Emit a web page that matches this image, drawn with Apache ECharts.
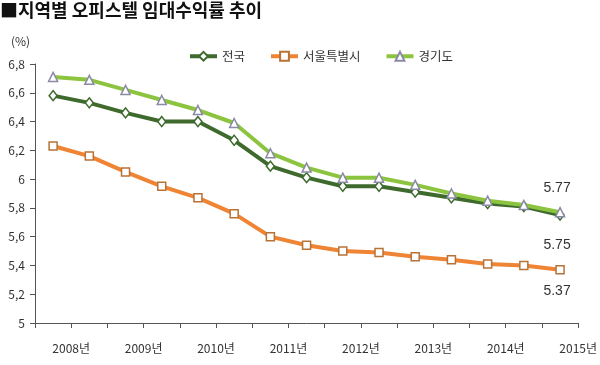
<!DOCTYPE html>
<html><head><meta charset="utf-8">
<script src="https://cdn.jsdelivr.net/npm/echarts@6/dist/echarts.min.js"></script>
<style>html,body{margin:0;padding:0;background:#fff}#c{width:600px;height:365px}</style>
</head><body><div id="c"></div>
<script>
const periods = ['2008-1','2008-2','2009-1','2009-2','2010-1','2010-2','2011-1','2011-2','2012-1','2012-2','2013-1','2013-2','2014-1','2014-2','2015-1'];
const yearLabels = ['2008년','2009년','2010년','2011년','2012년','2013년','2014년','2015년'];
const national = [6.58,6.53,6.46,6.40,6.40,6.27,6.09,6.01,5.95,5.95,5.91,5.87,5.83,5.81,5.75];
const seoul    = [6.23,6.16,6.05,5.95,5.87,5.76,5.60,5.54,5.50,5.49,5.46,5.44,5.41,5.40,5.37];
const gyeonggi = [6.71,6.69,6.62,6.55,6.48,6.39,6.18,6.08,6.01,6.01,5.96,5.90,5.85,5.82,5.77];
const seriesNames = ['전국','서울특별시','경기도'];
const yTicks = [5,5.2,5.4,5.6,5.8,6,6.2,6.4,6.6,6.8];

const font = '"Noto Sans CJK KR", "Noto Sans", sans-serif';
function toData(arr, lastLabel) {
  return arr.map((v, i) => {
    const item = { value: [i + 0.5, v] };
    if (i === arr.length - 1) item.label = Object.assign({ show: true }, lastLabel);
    return item;
  });
}
const labelBase = {
  color: '#333', fontSize: 14, fontFamily: 'Arial, "Liberation Sans", sans-serif',
  offset: [-3, 0], formatter: p => p.value[1].toFixed(2)
};
const chart = echarts.init(document.getElementById('c'), null, { renderer: 'canvas' });
chart.setOption({
  animation: false,
  backgroundColor: '#fff',
  graphic: [
    { type: 'text', left: 0, top: 1, style: { text: '■지역별 오피스텔 임대수익률 추이', font: 'bold 18px ' + font, fill: '#111' } },
    { type: 'text', left: 11, top: 35, style: { text: '(%)', font: '12px ' + font, fill: '#333' } }
  ],
  legend: {
    top: 45, left: 183, itemWidth: 27, itemHeight: 11, itemGap: 24,
    lineStyle: { width: 4 },
    textStyle: { fontSize: 12.5, color: '#333', fontFamily: font },
    data: seriesNames
  },
  grid: { left: 35, right: 20, top: 64, bottom: 42 },
  xAxis: {
    type: 'value', min: 0, max: periods.length, interval: 1,
    axisLine: { lineStyle: { color: '#555', width: 1 } },
    axisTick: { show: true, length: 5, lineStyle: { color: '#555' } },
    splitLine: { show: false },
    axisLabel: {
      margin: 19, fontSize: 12, color: '#333', fontFamily: font,
      formatter: v => (v % 2 === 1 ? yearLabels[(v - 1) / 2] : '')
    }
  },
  yAxis: {
    type: 'value', min: yTicks[0], max: yTicks[yTicks.length - 1], interval: 0.2,
    axisLine: { show: true, lineStyle: { color: '#555', width: 1 } },
    axisTick: { show: true, length: 5, lineStyle: { color: '#555' } },
    splitLine: { show: false },
    axisLabel: {
      margin: 10, fontSize: 12, color: '#333', fontFamily: font,
      formatter: v => String(Math.round(v * 10) / 10).replace('.', ',')
    }
  },
  series: [
    {
      name: seriesNames[0], type: 'line', data: toData(national, Object.assign({}, labelBase, { position: 'bottom', distance: 17 })),
      lineStyle: { color: '#3e6b2d', width: 4 }, itemStyle: { color: '#fff', borderColor: '#3e6b2d', borderWidth: 1.5 },
      symbol: 'diamond', symbolSize: [8, 10], z: 3
    },
    {
      name: seriesNames[1], type: 'line', data: toData(seoul, Object.assign({}, labelBase, { position: 'bottom', distance: 10 })),
      lineStyle: { color: '#ee8434', width: 4 }, itemStyle: { color: '#fff', borderColor: '#b87236', borderWidth: 1.5 },
      symbol: 'rect', symbolSize: 8, z: 2
    },
    {
      name: seriesNames[2], type: 'line', data: toData(gyeonggi, Object.assign({}, labelBase, { position: 'top', distance: 12 })),
      lineStyle: { color: '#8cc43f', width: 4 }, itemStyle: { color: '#fff', borderColor: '#8a8aa6', borderWidth: 1.5 },
      symbol: 'triangle', symbolSize: 9, z: 4
    }
  ]
});
</script></body></html>
